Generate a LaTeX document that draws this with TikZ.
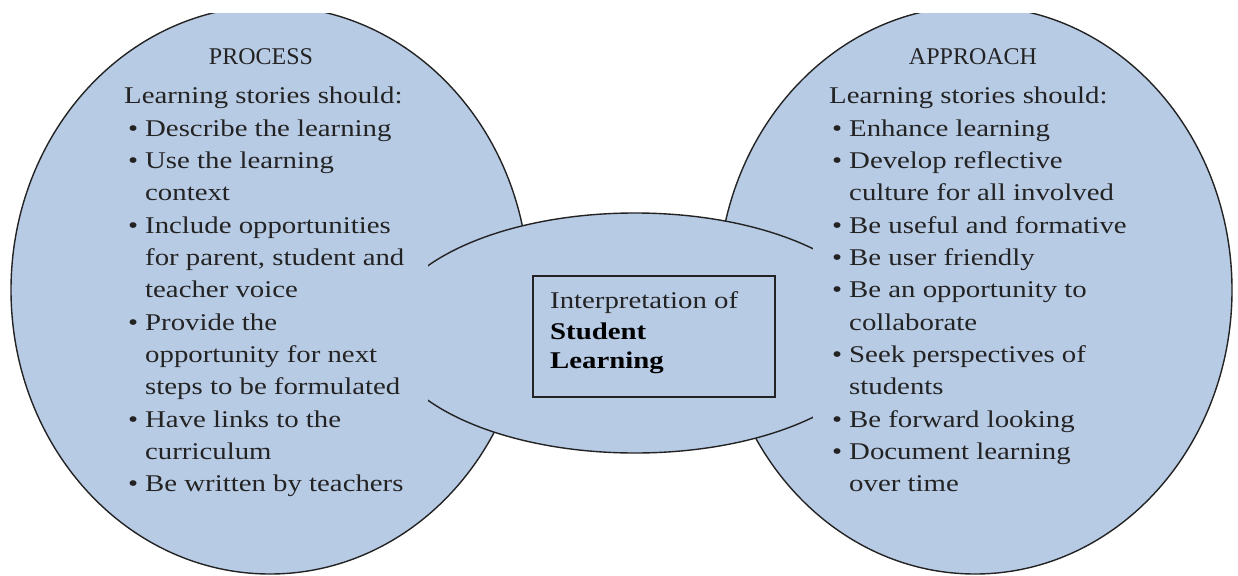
\documentclass[tikz,border=0pt]{standalone}
\usepackage{fontspec}
\usetikzlibrary{shapes.geometric}
\newfontfamily\bodyfont[FakeStretch=1.2]{Liberation Serif}
\newfontfamily\headfont{Liberation Serif}
\definecolor{lsblue}{RGB}{184,203,229}
\definecolor{ink}{RGB}{35,35,35}
\newcommand{\bul}{\makebox[17pt][l]{\textbullet}}
\begin{document}
\begin{tikzpicture}[x=1pt,y=-1pt,
  blob/.style={ellipse, draw=ink, line width=1.4pt, fill=lsblue, inner sep=0pt},
  txt/.style={anchor=base west, inner sep=0pt, text=ink, font=\bodyfont\fontsize{24}{32}\selectfont},
  head/.style={anchor=base, inner sep=0pt, text=ink, font=\headfont\fontsize{24}{32}\selectfont},
  frame/.style={draw=ink, line width=1.6pt, inner sep=0pt}]
\useasboundingbox (0,0) rectangle (1238,575);
\begin{scope}
  \clip (0,14) rectangle (1238,576);
  \node[blob, minimum width=518pt, minimum height=568pt] (process) at (270,290) {};
  \node[blob, minimum width=514pt, minimum height=568pt] (approach) at (975,290) {};
\end{scope}
\node[blob, minimum width=500pt, minimum height=240pt] (interp) at (635,333) {};
% text areas covering the middle outline
\fill[lsblue] (368,248) rectangle (428,422);
\fill[lsblue] (813,238) rectangle (897,432);
% centre box
\node[frame, minimum width=242pt, minimum height=121pt] (box) at (654,336.5) {};
\node[txt] (c1) at (550,308.3) {Interpretation of};
\node[txt, text=black] (c2) at (550,339) {\bfseries Student};
\node[txt, text=black] (c3) at (550,368.5) {\bfseries Learning};
% left text
\node[head] (ph) at (261,65) {PROCESS};
\node[txt] (p0) at (124,104) {Learning stories should:};
\node[txt] (p1) at (128,136.3) {\bul Describe the learning};
\node[txt] (p2) at (128,168.6) {\bul Use the learning};
\node[txt] (p3) at (145,200.9) {context};
\node[txt] (p4) at (128,233.2) {\bul Include opportunities};
\node[txt] (p5) at (145,265.5) {for parent, student and};
\node[txt] (p6) at (145,297.8) {teacher voice};
\node[txt] (p7) at (128,330.1) {\bul Provide the};
\node[txt] (p8) at (145,362.4) {opportunity for next};
\node[txt] (p9) at (145,394.7) {steps to be formulated};
\node[txt] (p10) at (128,427.0) {\bul Have links to the};
\node[txt] (p11) at (145,459.3) {curriculum};
\node[txt] (p12) at (128,491.6) {\bul Be written by teachers};
% right text
\node[head] (ah) at (973,65) {APPROACH};
\node[txt] (a0) at (829,104) {Learning stories should:};
\node[txt] (a1) at (832,136.3) {\bul Enhance learning};
\node[txt] (a2) at (832,168.6) {\bul Develop reflective};
\node[txt] (a3) at (849,200.9) {culture for all involved};
\node[txt] (a4) at (832,233.2) {\bul Be useful and formative};
\node[txt] (a5) at (832,265.5) {\bul Be user friendly};
\node[txt] (a6) at (832,297.8) {\bul Be an opportunity to};
\node[txt] (a7) at (849,330.1) {collaborate};
\node[txt] (a8) at (832,362.4) {\bul Seek perspectives of};
\node[txt] (a9) at (849,394.7) {students};
\node[txt] (a10) at (832,427.0) {\bul Be forward looking};
\node[txt] (a11) at (832,459.3) {\bul Document learning};
\node[txt] (a12) at (849,491.6) {over time};
\end{tikzpicture}
\end{document}
